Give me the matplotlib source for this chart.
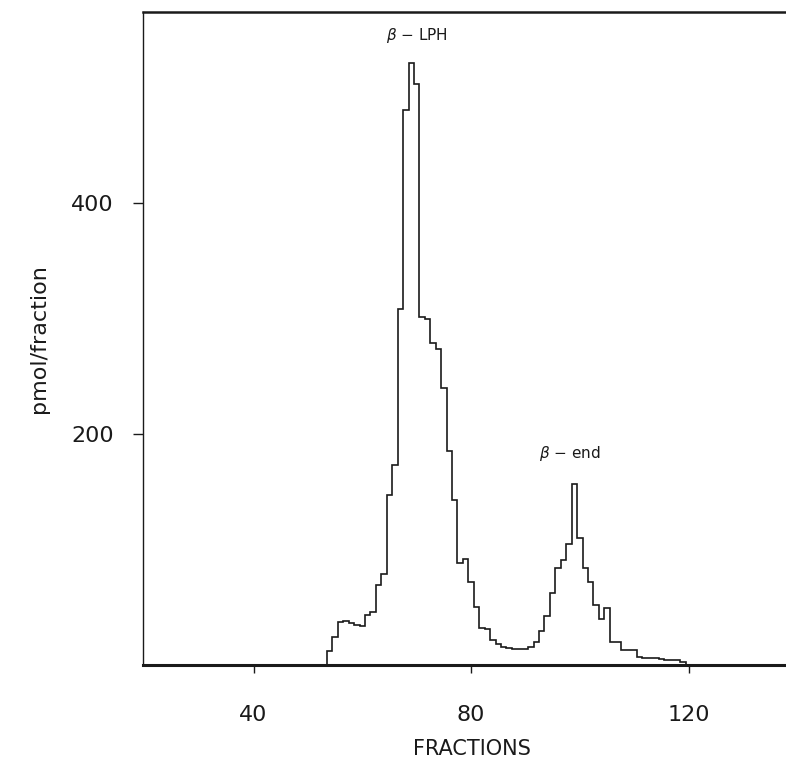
import numpy as np
import matplotlib.pyplot as plt

fractions = np.arange(54, 120)
pmol = [12, 24, 37, 38, 36, 35, 34, 43, 46, 69,
        79, 147, 173, 308, 480, 521, 503, 301, 299, 279,
        273, 240, 185, 143, 88, 92, 72, 50, 32, 31,
        22, 18, 16, 15, 14, 14, 14, 16, 20, 29,
        42, 62, 84, 91, 105, 157, 110, 84, 72, 52,
        40, 49, 20, 20, 13, 13, 13, 7, 6, 6,
        6, 5, 4, 4, 4, 3]

x_ticks = [40, 80, 120]
y_ticks = [200, 400]
peak_labels = [r"$\beta$ − LPH", r"$\beta$ − end"]
peak_pos = [(70.0, 545), (98.2, 183)]

ink = "#1a1a1a"
plt.rcParams['font.family'] = ['DejaVu Sans']

fig = plt.figure(figsize=(7.86, 7.73), dpi=100)
# axes run off the right edge of the page, like the scanned original
ax = fig.add_axes([143 / 786, 108 / 773, 657 / 786, 653 / 773])

edges = np.append(fractions - 0.5, fractions[-1] + 0.5)
ax.stairs(pmol, edges, baseline=0, color=ink, linewidth=1.2)

ax.set_xlim(19.66, 140.5)
ax.set_ylim(0, 565)

ax.set_xticks(x_ticks)
ax.set_yticks(y_ticks)
ax.tick_params(axis='x', direction='out', length=6, width=1, pad=23,
               labelsize=16, colors=ink)
ax.tick_params(axis='y', direction='out', length=7, width=1, pad=14,
               labelsize=16, colors=ink)

ax.spines['right'].set_visible(False)
ax.spines['bottom'].set_linewidth(2.2)
ax.spines['top'].set_linewidth(1.8)
ax.spines['left'].set_linewidth(1.0)
for s in ax.spines.values():
    s.set_color(ink)

ax.set_xlabel("FRACTIONS", fontsize=15, color=ink, labelpad=10)
ax.set_ylabel("pmol/fraction", fontsize=16, color=ink, labelpad=16)

for txt, (px, py) in zip(peak_labels, peak_pos):
    ax.text(px, py, txt, ha='center', va='center', fontsize=11, color=ink)

fig.savefig("out.png", dpi=100)
